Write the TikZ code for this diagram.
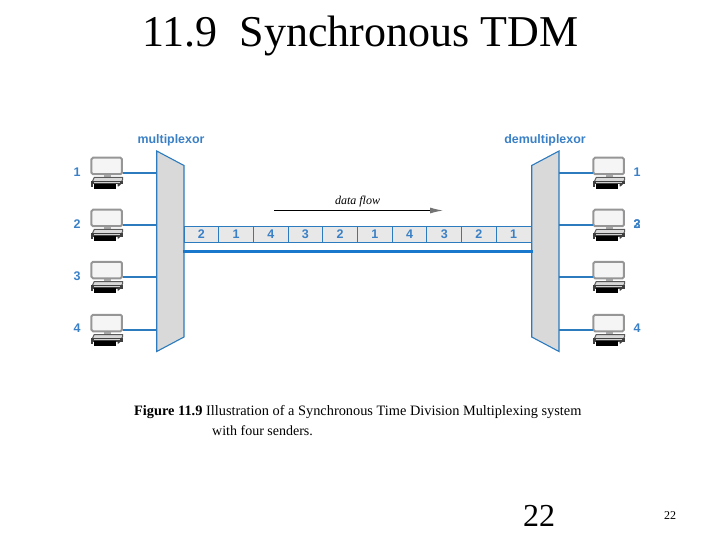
\documentclass[tikz,border=0pt]{standalone}
\usepackage{fontspec}
\setmainfont{Liberation Serif}
\newfontfamily\labelfont{Liberation Sans}
\usetikzlibrary{positioning,arrows.meta}
\definecolor{linkblue}{HTML}{2B7BBE}
\definecolor{trunkblue}{HTML}{1A78CC}
\definecolor{textblue}{HTML}{3A80C6}
\definecolor{muxgray}{HTML}{D9D9D9}
\definecolor{cellgray}{HTML}{E8E8E8}
\definecolor{pcgray}{HTML}{969696}
\tikzset{
  devlabel/.style={font=\labelfont\fontsize{12.4}{14}\selectfont\bfseries, text=textblue, inner sep=0pt},
  numlabel/.style={font=\labelfont\fontsize{12.5}{14}\selectfont\bfseries, text=textblue, inner sep=0pt},
  celltext/.style={draw=linkblue, fill=cellgray, line width=1pt, minimum width=34.7pt, minimum height=16pt, inner sep=0pt, outer sep=0pt,
    font=\labelfont\fontsize{12.5}{14}\selectfont\bfseries, text=textblue},
  muxbox/.style={draw=linkblue, fill=muxgray, line width=1.1pt},
  link/.style={draw=linkblue, line width=1.4pt},
  heavylink/.style={draw=linkblue, line width=2.2pt},
  computer/.pic={
    \fill[pcgray!80] (13,18) rectangle (20,21);
    \node[draw=pcgray, fill=black!4, line width=2pt, rounded corners=1.5pt, minimum width=30.5pt, minimum height=16.5pt, inner sep=0pt] (-screen) at (16,9) {};
    \coordinate (-port) at (32.3,16);
    \draw[black!65, fill=black!15, line width=1pt] (3.5,20.5) -- (32,20.5) -- (32,22.5) -- (30,26) -- (1,26) -- cycle;
    \fill[black!75] (0,24) rectangle (32,27.5);
    \fill[black!18] (3,25) rectangle (29,26.2);
    \fill[black!75] (0,24) rectangle (2.5,30);
    \fill[black] (3,27) rectangle (25,32);
    \fill[black!75] (27,27) -- (30.5,27) -- (28,29.5) -- (27,29.5) -- cycle;
  }
}
\begin{document}
\begin{tikzpicture}[x=1pt, y=-1pt]
  \useasboundingbox (0,0) rectangle (720,540);
  \node (title) at (360.5,36) {\fontsize{44}{48}\selectfont 11.9\ \ Synchronous TDM};

  % computers
  \pic (pcA) at (90.7,157) {computer};
  \pic (pcB) at (90.7,209) {computer};
  \pic (pcC) at (90.7,261) {computer};
  \pic (pcD) at (90.7,314) {computer};
  \pic (pcE) at (592.7,157) {computer};
  \pic (pcF) at (592.7,209) {computer};
  \pic (pcG) at (592.7,261) {computer};
  \pic (pcH) at (592.7,314) {computer};
  \coordinate (pcEin) at (592.7,173);
  \coordinate (pcFin) at (592.7,225);
  \coordinate (pcGin) at (592.7,277);
  \coordinate (pcHin) at (592.7,330);

  % the two boxes
  \draw[muxbox] (156.7,151) coordinate (muxA) -- (184,165.5) coordinate (muxB)
    -- (184,337) coordinate (muxC) -- (156.7,351.5) coordinate (muxD) -- cycle;
  \draw[muxbox] (531.7,165.5) coordinate (demuxA) -- (559,151) coordinate (demuxB)
    -- (559,351.5) coordinate (demuxC) -- (531.7,337) coordinate (demuxD) -- cycle;
  \node[devlabel] (muxname) at (171,140) {multiplexor};
  \node[devlabel] (demuxname) at (545,140) {demultiplexor};

  % left and right links
  \draw[link] (pcA-port) -- (pcA-port -| muxA);
  \draw[link] (pcB-port) -- (pcB-port -| muxA);
  \draw[link] (pcC-port) -- (pcC-port -| muxA);
  \draw[heavylink] (pcD-port) -- (pcD-port -| muxA);
  \draw[link] (pcEin -| demuxB) -- (pcEin);
  \draw[link] (pcFin -| demuxB) -- (pcFin);
  \draw[link] (pcGin -| demuxB) -- (pcGin);
  \draw[heavylink] (pcHin -| demuxB) -- (pcHin);

  \node[numlabel] (numA) at (77,172) {1};
  \node[numlabel] (numB) at (77,224) {2};
  \node[numlabel] (numC) at (77,276) {3};
  \node[numlabel] (numD) at (77,328) {4};
  \node[numlabel] (numE) at (637,172) {1};
  \node[numlabel] (numF) at (637,224) {2};
  \node[numlabel] (numG) at (637,224) {3};
  \node[numlabel] (numH) at (637,328) {4};

  % time slots
  \node[celltext] (slotA) at (201.35,234.3) {2};
  \node[celltext, right=0pt of slotA] (slotB) {1};
  \node[celltext, right=0pt of slotB] (slotC) {4};
  \node[celltext, right=0pt of slotC] (slotD) {3};
  \node[celltext, right=0pt of slotD] (slotE) {2};
  \node[celltext, right=0pt of slotE] (slotF) {1};
  \node[celltext, right=0pt of slotF] (slotG) {4};
  \node[celltext, right=0pt of slotG] (slotH) {3};
  \node[celltext, right=0pt of slotH] (slotI) {2};
  \node[celltext, right=0pt of slotI] (slotJ) {1};

  \coordinate (trunkA) at (183,251.3);
  \coordinate (trunkB) at (532.5,251.3);
  \draw[trunkblue, line width=2.8pt] (trunkA) -- (trunkB);

  % data flow
  \coordinate (flowA) at (274,210.5);
  \coordinate (flowB) at (443,210.5);
  \draw[line width=1pt, -{Latex[length=13pt, width=6pt, color=black!55]}] (flowA) -- (flowB);
  \node (flowname) at (357.5,201.5) {\fontsize{12}{14}\selectfont\itshape data flow};

  % caption
  \node[anchor=west, inner sep=0pt] (capA) at (134,412.5) {\fontsize{14.35}{16}\selectfont\textbf{Figure 11.9} Illustration of a Synchronous Time Division Multiplexing system};
  \node[anchor=west, inner sep=0pt] (capB) at (212,431) {\fontsize{14}{16}\selectfont with four senders.};

  \node (pagebig) at (539,516) {\fontsize{32}{36}\selectfont 22};
  \node (pagesmall) at (670,516) {\fontsize{12}{14}\selectfont 22};
\end{tikzpicture}
\end{document}
